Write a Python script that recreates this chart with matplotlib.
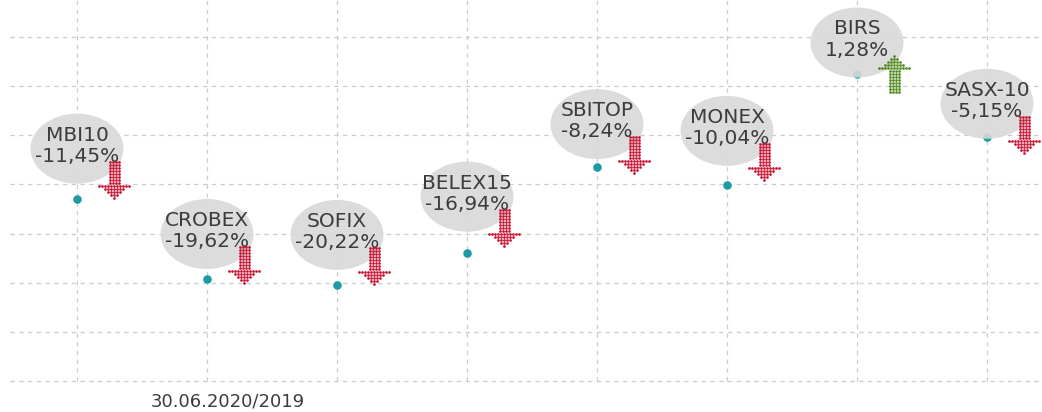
import matplotlib
matplotlib.use("Agg")
import matplotlib.pyplot as plt
from matplotlib.patches import Ellipse
from matplotlib.transforms import IdentityTransform

# ---- data ----
indices = ["MBI10", "CROBEX", "SOFIX", "BELEX15", "SBITOP", "MONEX", "BIRS", "SASX-10"]
changes = [-11.45, -19.62, -20.22, -16.94, -8.24, -10.04, 1.28, -5.15]
date_label = "30.06.2020/2019"
y_ticks = [5, 0, -5, -10, -15, -20, -25, -30]

# ---- layout (pixels) ----
label_rise = [50, 45, 50, 56, 43, 54, 31, 33]   # bubble centre above the point
W, H = 1042, 412
DPI = 100

fig = plt.figure(figsize=(W / DPI, H / DPI), dpi=DPI)
ax = fig.add_axes([0, 0, 1, 1])
ax.set_axis_off()

px_per_x = 130.0
px_per_y = (381 - 37) / 35.0
x0_px = 77.0
ax.set_xlim(-x0_px / px_per_x, (W - x0_px) / px_per_x)
ax.set_ylim(5 - (H - 37) / px_per_y, 5 + 37 / px_per_y)

grid_kw = dict(color="#cccccc", linewidth=0.9, linestyles=(0, (3.5, 3.5)), zorder=0)
xl = ax.get_xlim()
yl = ax.get_ylim()
ax.hlines(y_ticks, (10 - x0_px) / px_per_x, xl[1], **grid_kw)
ax.vlines(range(len(indices)), -30, yl[1], **grid_kw)

red = "#c8102e"
green = "#4f8a1c"
teal = "#1d9ba4"
txt = "#3c3c3c"

ax.scatter(range(len(indices)), changes, s=38, color=teal, zorder=2, linewidths=0)

# arrow dot pattern (col, row) in dot units, row 0 = top, for a down arrow
def arrow_pattern():
    pts = []
    for r in range(8):
        for c in (-1.5, -0.5, 0.5, 1.5):
            pts.append((c, r))
    widths = [11, 7, 5, 3, 1]
    for i, w in enumerate(widths):
        half = (w - 1) / 2
        for k in range(w):
            pts.append((-half + k, 8 + i))
    return pts

pattern = arrow_pattern()
nrows = 13
step = 3.0
ident = IdentityTransform()

for i, (name, v) in enumerate(zip(indices, changes)):
    px, py = ax.transData.transform((i, v))
    cx, cy = px, py + label_rise[i]
    ell = Ellipse((cx, cy), 93, 70, transform=ident, facecolor="#d9d9d9",
                  edgecolor="none", alpha=0.9, zorder=3)
    ax.add_patch(ell)
    pct = f"{v:.2f}".replace(".", ",") + "%"
    ax.text(cx, cy + 3, f"{name}\n{pct}", transform=ident, ha="center", va="center",
            fontsize=14.5, color=txt, linespacing=1.15, zorder=5,
            family=["DejaVu Sans"])
    ax_x = cx + 37
    top = cy - 13
    xs, ys = [], []
    for c, r in pattern:
        xs.append(ax_x + c * step)
        if v < 0:
            ys.append(top - r * step)
        else:
            ys.append(top - (nrows - 1 - r) * step)
    ax.scatter(xs, ys, transform=ident, s=3.8, marker="o", linewidths=0,
               color=red if v < 0 else green, zorder=6)

fig.text(228 / W, 1 - 401 / H, date_label, ha="center", va="center",
         fontsize=13, color=txt)

fig.savefig("out.png", dpi=DPI)
